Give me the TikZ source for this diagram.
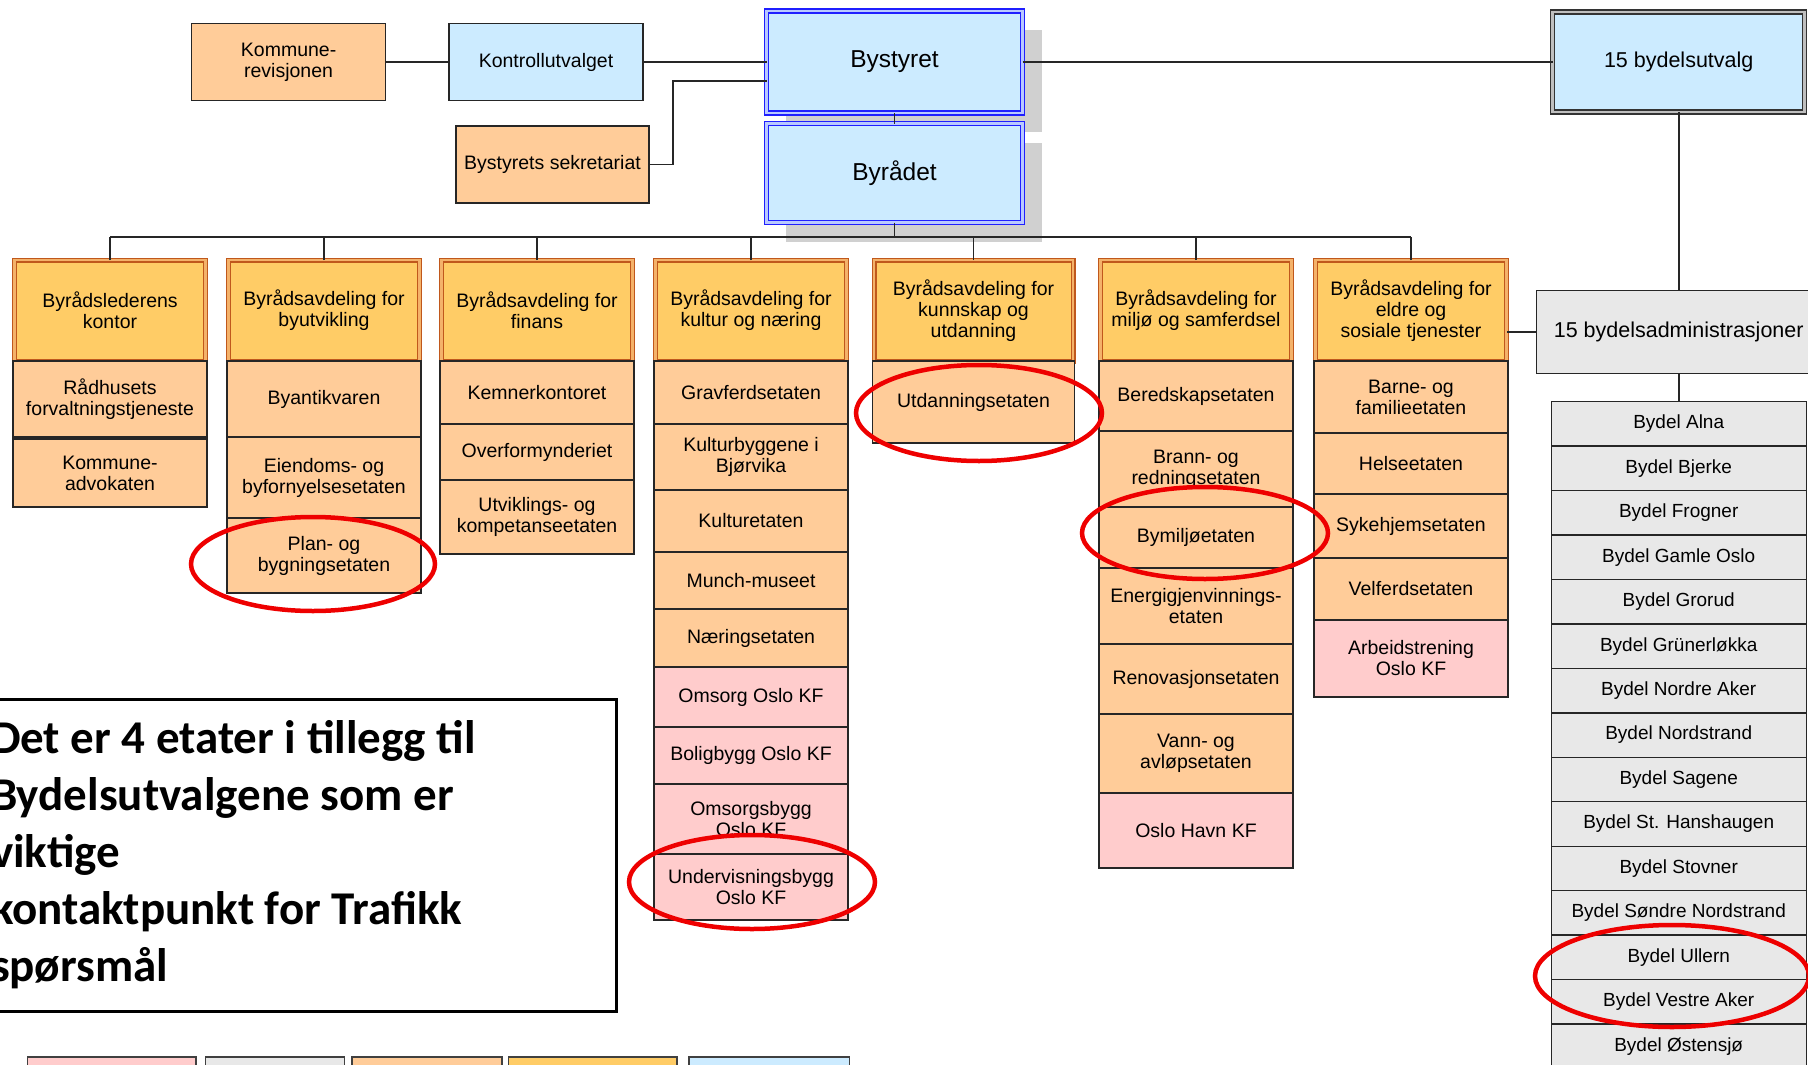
\documentclass[tikz,border=0pt]{standalone}
\usepackage{fontspec}
\setmainfont{Liberation Sans}
\newfontfamily\notefont{Carlito}
\usepackage{tikz}
\usetikzlibrary{calc,positioning,shapes,shadows,backgrounds}
\definecolor{hdfill}{HTML}{FFCC66}
\definecolor{hdline}{HTML}{C0581C}
\definecolor{hdgap}{HTML}{F4B26A}
\definecolor{etfill}{HTML}{FFCC99}
\definecolor{kffill}{HTML}{FFCCCC}
\definecolor{bdfill}{HTML}{E8E8E8}
\definecolor{blfill}{HTML}{CCEBFF}
\definecolor{bsline}{HTML}{1F1FFF}
\definecolor{bsgap}{HTML}{B9C9FF}
\definecolor{shadegrey}{HTML}{D0D0D0}
\definecolor{ringred}{HTML}{EE0000}

\begin{document}
\begin{tikzpicture}[x=1pt, y=-1pt]
\tikzstyle{every node}=[outer sep=0pt, inner sep=2pt, align=center,
                        font=\fontsize{19.5}{21}\selectfont]
\tikzstyle{box}=[draw=black!85, line width=1.4pt, minimum width=194pt]
\tikzstyle{etat}=[box, fill=etfill]
\tikzstyle{kf}=[box, fill=kffill]
\tikzstyle{avd}=[fill=hdfill, draw=hdline, double=hdgap, line width=1.3pt,
                 double distance=2.4pt, minimum width=191pt, minimum height=101pt]
\tikzstyle{top}=[fill=blfill, draw=bsline, double=bsgap, line width=1.5pt,
                 double distance=2.5pt, minimum width=256pt,
                 font=\fontsize{24.5}{26}\selectfont,
                 drop shadow={shadow xshift=19pt, shadow yshift=-19pt, fill=shadegrey, opacity=1}]
\tikzstyle{bydel}=[draw=black!85, line width=1.4pt, fill=bdfill,
                   minimum width=255pt, minimum height=44.45pt,
                   font=\fontsize{19}{21}\selectfont]
\tikzstyle{conn}=[line width=1.8pt, black!85]
\tikzstyle{ring}=[line width=4.5pt, ringred]
\tikzstyle{notetext}=[anchor=base west, inner sep=0pt,
                      font=\notefont\bfseries\fontsize{47}{57}\selectfont]

\useasboundingbox (0,0) rectangle (1808,1065);
\clip (0,0) rectangle (1808,1065);

\node[box, fill=etfill, minimum height=77pt] (komrev) at (288.6,62) {Kommune-\\revisjonen};
\node[box, fill=blfill, minimum height=77pt] (kontroll) at (546,62) {Kontrollutvalget};
\node[top, minimum height=102pt] (bystyret) at (894.5,62) {Bystyret};
\node[top, minimum height=99pt] (byraadet) at (894.5,173) {Byrådet};
\node[box, fill=etfill, minimum width=193pt, minimum height=77pt] (sekr) at (552.5,164.5) {Bystyrets sekretariat};
\node[fill=blfill, draw=black!80, double=black!25, line width=1.5pt, double distance=2.5pt,
      minimum width=252pt, minimum height=100pt, font=\fontsize{21.5}{23}\selectfont]
      (utvalg) at (1678.7,62) {15 bydelsutvalg};
\node[box, fill=bdfill, minimum width=284pt, minimum height=83pt,
      font=\fontsize{21.5}{23}\selectfont] (adm) at (1678.7,332) {15 bydelsadministrasjoner};

\node[avd] (leder) at (110,310.5) {Byrådslederens\\kontor};
\node[etat, minimum height=76pt, below=0pt of leder] (raadhus) {Rådhusets\\forvaltningstjeneste};
\node[etat, minimum height=68pt, below=2pt of raadhus] (advokat) {Kommune-\\advokaten};

\node[avd] (byutv) at (324,310.5) {Byrådsavdeling for\\byutvikling};
\node[etat, minimum height=76pt, below=0pt of byutv] (antikv) {Byantikvaren};
\node[etat, minimum height=81pt, below=0pt of antikv] (eiendom) {Eiendoms- og\\byfornyelsesetaten};
\node[etat, minimum height=75pt, below=0pt of eiendom] (plan) {Plan- og\\bygningsetaten};

\node[avd] (finans) at (537,310.5) {Byrådsavdeling for\\finans};
\node[etat, minimum height=63pt, below=0pt of finans] (kemner) {Kemnerkontoret};
\node[etat, minimum height=56pt, below=0pt of kemner] (overform) {Overformynderiet};
\node[etat, minimum height=74pt, below=0pt of overform] (utvikl) {Utviklings- og\\kompetanseetaten};

\node[avd] (kultur) at (751,310.5) {Byrådsavdeling for\\kultur og næring};
\node[etat, minimum height=63pt, below=0pt of kultur] (gravferd) {Gravferdsetaten};
\node[etat, minimum height=66pt, below=0pt of gravferd] (kulturbygg) {Kulturbyggene i\\Bjørvika};
\node[etat, minimum height=62pt, below=0pt of kulturbygg] (kulturet) {Kulturetaten};
\node[etat, minimum height=57pt, below=0pt of kulturet] (munch) {Munch-museet};
\node[etat, minimum height=58pt, below=0pt of munch] (naering) {Næringsetaten};
\node[kf, minimum height=60pt, below=0pt of naering] (omsorg) {Omsorg Oslo KF};
\node[kf, minimum height=57pt, below=0pt of omsorg] (boligbygg) {Boligbygg Oslo KF};
\node[kf, minimum height=70pt, below=0pt of boligbygg] (omsorgsbygg) {Omsorgsbygg\\Oslo KF};
\node[kf, minimum height=66pt, below=0pt of omsorgsbygg] (undervis) {Undervisningsbygg\\Oslo KF};

\node[avd, minimum width=199pt] (kunnskap) at (973.5,310.5) {Byrådsavdeling for\\kunnskap og\\utdanning};
\node[etat, minimum width=202pt, minimum height=82pt, below=0pt of kunnskap] (utdanning) {Utdanningsetaten};

\node[avd] (miljo) at (1196,310.5) {Byrådsavdeling for\\miljø og samferdsel};
\node[etat, minimum height=70pt, below=0pt of miljo] (beredskap) {Beredskapsetaten};
\node[etat, minimum height=76pt, below=0pt of beredskap] (brann) {Brann- og\\redningsetaten};
\node[etat, minimum height=61pt, below=0pt of brann] (bymiljo) {Bymiljøetaten};
\node[etat, minimum height=76pt, below=0pt of bymiljo] (energi) {Energigjenvinnings-\\etaten};
\node[etat, minimum height=70pt, below=0pt of energi] (renovasjon) {Renovasjonsetaten};
\node[etat, minimum height=79pt, below=0pt of renovasjon] (vann) {Vann- og\\avløpsetaten};
\node[kf, minimum height=75pt, below=0pt of vann] (havn) {Oslo Havn KF};

\node[avd] (eldre) at (1411,310.5) {Byrådsavdeling for\\eldre og\\sosiale tjenester};
\node[etat, minimum height=72pt, below=0pt of eldre] (barne) {Barne- og\\familieetaten};
\node[etat, minimum height=61pt, below=0pt of barne] (helse) {Helseetaten};
\node[etat, minimum height=64pt, below=0pt of helse] (sykehjem) {Sykehjemsetaten};
\node[etat, minimum height=62pt, below=0pt of sykehjem] (velferd) {Velferdsetaten};
\node[kf, minimum height=77pt, below=0pt of velferd] (arbeid) {Arbeidstrening\\Oslo KF};

\foreach \b [count=\i] in {Alna, Bjerke, Frogner, Gamle Oslo, Grorud, Grünerløkka,
    Nordre Aker, Nordstrand, Sagene, St. Hanshaugen, Stovner, Søndre Nordstrand,
    Ullern, Vestre Aker, Østensjø}
  \node[bydel] (bydel\i) at (1678.7,{401.7+44.45*(\i-0.5)}) {Bydel \b};

\draw[conn] (komrev) -- (kontroll) -- (bystyret) -- (utvalg);
\draw[conn] (sekr.east) -- ++(24,0) |- ([yshift=-19pt]bystyret.west);
\draw[conn] (bystyret) -- (byraadet);
\coordinate (bus) at (894.5,237);
\draw[conn] (byraadet) -- (byraadet |- bus);
\draw[conn] (leder.north |- bus) -- (eldre.north |- bus);
\foreach \c in {leder,byutv,finans,kultur,kunnskap,miljo,eldre}
  \draw[conn] (\c.north) -- (\c.north |- bus);
\draw[conn] (utvalg) -- (adm);
\draw[conn] (adm.west) -- (adm.west -| eldre.east);
\draw[conn] (adm) -- (bydel1);

\node[draw=black, line width=3pt, fill=white, minimum width=636pt, minimum height=312pt]
     (note) at (298,855) {};
\foreach \t [count=\i] in {Det er 4 etater i tillegg til, Bydelsutvalgene som er,
    viktige, kontaktpunkt for Trafikk, spørsmål}
  \node[notetext] (line\i) at (-9,{753+57*(\i-1)}) {\t};

\foreach \c/\a/\b in {kffill/27.5/196, bdfill/205.5/344.4, etfill/352/502,
    hdfill/508.6/677, blfill/689/849.5}
  \draw[fill=\c, draw=black!75, line width=1.4pt] (\a,1057) rectangle (\b,1100);

\draw[ring] (313,564) ellipse (122pt and 47pt);
\draw[ring] (979,413) ellipse (123pt and 48pt);
\draw[ring] (1205,533) ellipse (123pt and 46pt);
\draw[ring] (752,882) ellipse (123pt and 47pt);
\draw[ring] (1672,976) ellipse (137pt and 51pt);
\end{tikzpicture}
\end{document}
